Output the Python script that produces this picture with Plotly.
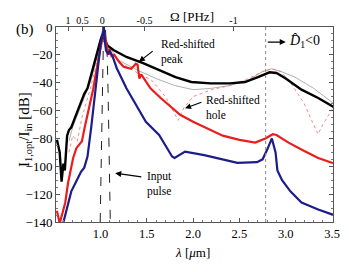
import plotly.graph_objects as go

# ---- data (wavelength in um, intensity in dB) ----
black_lam = [0.53, 0.56, 0.58, 0.60, 0.615, 0.64, 0.66, 0.685, 0.72, 0.755, 0.79, 0.825, 0.86, 0.90, 0.95,
             1.00, 1.02, 1.05, 1.07, 1.14, 1.28, 1.46, 1.63, 1.81, 1.98, 2.19, 2.4, 2.56, 2.7, 2.825, 2.9,
             3.0, 3.17, 3.35, 3.52]
black_db = [-81, -90, -111, -98, -103, -78, -74, -72, -66, -60, -53, -48, -44, -35, -22,
            -9.5, -5.5, -9, -13, -16.5, -21.5, -26, -31, -36, -39.5, -40.5, -40.5, -39.5, -36, -32.5, -33,
            -37, -45, -51, -57.5]

red_lam = [0.53, 0.56, 0.58, 0.60, 0.62, 0.65, 0.68, 0.705, 0.74, 0.78, 0.80, 0.83, 0.86, 0.885, 0.92, 0.96,
           1.00, 1.035, 1.05, 1.07, 1.09, 1.10, 1.12, 1.15, 1.2, 1.25, 1.33, 1.36, 1.38, 1.40, 1.42, 1.44,
           1.47, 1.54, 1.65, 1.79, 1.86, 2.0, 2.2, 2.32, 2.5, 2.67, 2.78, 2.86, 2.9, 3.03, 3.2, 3.35, 3.52]
red_db = [-132, -141, -136, -130, -126, -112, -102, -94, -87, -84, -82, -72, -63, -57, -45, -30,
          -14, -3, -8, -14, -20, -16, -21, -20, -25, -28.5, -30, -28, -26.5, -27, -37, -34,
          -37, -44, -51, -59, -63, -68, -74, -78, -81, -83, -80, -77, -77.5, -83, -89, -94, -98]

blue_lam = [0.597, 0.64, 0.685, 0.73, 0.77, 0.79, 0.825, 0.86, 0.90, 0.93, 0.948, 0.965, 1.00, 1.036,
            1.05, 1.06, 1.08, 1.10, 1.13, 1.176, 1.28, 1.386, 1.49, 1.633, 1.773, 1.80, 1.913, 2.12,
            2.478, 2.69, 2.75, 2.8, 2.85, 2.89, 2.91, 2.96, 3.05, 3.17, 3.35, 3.52]
blue_db = [-141, -130, -118, -112, -106, -104, -101, -93, -72, -52, -45, -34, -13, 0,
           -12, -17, -19, -17.5, -21, -29.6, -44, -56, -68, -77.5, -93, -94, -89.5, -92,
           -97.6, -97, -95, -88, -80, -90, -103, -110, -118, -126, -131, -135]

gray_lam = [0.66, 0.7, 0.8, 0.9, 1.0, 1.03, 1.1, 1.2, 1.4, 1.6, 1.8, 2.0, 2.2, 2.4, 2.6, 2.75, 2.85,
            2.95, 3.1, 3.3, 3.52]
gray_db = [-82, -72, -55, -38, -12, -5, -15, -24, -31, -37, -42, -45, -44, -42, -38, -32, -30,
           -32, -36, -44, -55]

pink_lam = [0.66, 0.7, 0.75, 0.8, 0.9, 1.0, 1.03, 1.1, 1.2, 1.4, 1.55, 1.7, 1.8, 1.84, 1.9, 2.0,
            2.2, 2.4, 2.6, 2.75, 2.85, 2.95, 3.05, 3.2, 3.3, 3.35, 3.4, 3.5, 3.52]
pink_db = [-90, -78, -82, -65, -42, -12, -5, -16, -25, -33, -38, -50, -62, -67, -58, -50,
           -45, -42, -37, -32, -30, -32, -40, -55, -70, -77, -70, -60, -57]

pulse_lam = [0.997, 1.005, 1.016, 1.03, 1.05, 1.07, 1.082, 1.095, 1.106]
pulse_db = [-140, -100, -45, -15, 0, -15, -45, -100, -140]

x_ticks = [1.0, 1.5, 2.0, 2.5, 3.0, 3.5]
y_ticks = [0, -20, -40, -60, -80, -100, -120, -140]
omega_pos = [0.65, 0.807, 1.018, 1.475, 2.436]
omega_labels = ["1", "0.5", "0", "-0.5", "-1"]

RED = "#ec1c1c"
BLUE = "#1c1c8a"
FONT = "Liberation Serif"

W, H = 349, 272
L, R, T, B = 56, 9, 27, 50
pw, ph = W - L - R, H - T - B


def px(xp):
    return (xp - L) / pw


def py(yp):
    return 1 - (yp - T) / ph


fig = go.Figure()
fig.add_trace(go.Scatter(x=gray_lam, y=gray_db, mode="lines",
                         line=dict(color="#9a9a9a", width=0.8)))
fig.add_trace(go.Scatter(x=pink_lam, y=pink_db, mode="lines",
                         line=dict(color="#f07a7a", width=0.9, dash="dot")))
fig.add_trace(go.Scatter(x=pulse_lam, y=pulse_db, mode="lines",
                         line=dict(color="#222", width=1, dash="dash")))
fig.add_trace(go.Scatter(x=black_lam, y=black_db, mode="lines",
                         line=dict(color="black", width=2.4)))
fig.add_trace(go.Scatter(x=red_lam, y=red_db, mode="lines",
                         line=dict(color=RED, width=2.2)))
fig.add_trace(go.Scatter(x=blue_lam, y=blue_db, mode="lines",
                         line=dict(color=BLUE, width=2.2)))
fig.add_trace(go.Scatter(x=[0.52, 3.51], y=[-200, -200], xaxis="x2", mode="lines",
                         line=dict(width=0), hoverinfo="skip"))

fig.add_shape(type="line", x0=2.783, x1=2.783, y0=0, y1=1, yref="paper",
              line=dict(color="#888", width=1, dash="dot"))


def arrow(hx, hy, tx, ty):
    return dict(x=hx, y=hy, ax=tx, ay=ty, axref="x", ayref="y", text="", showarrow=True,
                arrowhead=2, arrowsize=1, arrowwidth=1.2, arrowcolor="black")


def label(xp, yp, text, size=11.5):
    return dict(x=px(xp), y=py(yp), xref="paper", yref="paper", text=text, showarrow=False,
                xanchor="left", yanchor="middle", align="left",
                font=dict(family=FONT, size=size, color="black"))


annotations = [
    arrow(1.415, -25, 1.58, -16.5),
    label(162, 52, "Red-shifted<br>peak"),
    arrow(1.913, -58.4, 2.106, -53.6),
    label(208, 107, "Red-shifted<br>hole"),
    arrow(1.159, -105, 1.457, -107.7),
    label(147, 183.5, "Input<br>pulse"),
    arrow(3.0, -10.8, 2.79, -10.8),
    label(293, 42, "<i>D̂</i><sub>1</sub>&lt;0", size=14),
    dict(x=px(13), y=py(19), xref="paper", yref="paper", text="(b)",
         showarrow=False, font=dict(family=FONT, size=15, color="black")),
    dict(x=px(195), y=py(7), xref="paper", yref="paper", text="Ω [PHz]",
         showarrow=False, font=dict(family=FONT, size=13, color="black")),
    dict(x=px(13), y=py(130), xref="paper", yref="paper",
         text="I<sub>1,opt</sub>/I<sub>in</sub> [dB]", textangle=-90,
         showarrow=False, font=dict(family=FONT, size=15, color="black")),
    dict(x=px(196), y=py(262), xref="paper", yref="paper", text="<i>λ</i> [<i>μ</i>m]",
         showarrow=False, font=dict(family=FONT, size=13, color="black")),
]

fig.update_layout(
    width=W, height=H, margin=dict(l=L, r=R, t=T, b=B),
    paper_bgcolor="white", plot_bgcolor="white", showlegend=False,
    font=dict(family=FONT, size=13, color="black"),
    annotations=annotations,
    xaxis=dict(range=[0.52, 3.51], tickvals=x_ticks, tickformat=".1f", ticks="inside", ticklen=4,
               tickcolor="#555", showline=True, linecolor="#555", linewidth=1, mirror=True,
               showgrid=False, zeroline=False, ticklabeloverflow="allow",
               minor=dict(ticks="inside", ticklen=2, dtick=0.1, tick0=0.5, tickcolor="#777"),
               tickfont=dict(size=12.5)),
    xaxis2=dict(range=[0.52, 3.51], overlaying="x", side="top", tickvals=omega_pos,
                ticktext=omega_labels, ticks="inside", ticklen=4, tickcolor="#555",
                showgrid=False, zeroline=False, showline=False, tickfont=dict(size=10)),
    yaxis=dict(range=[-140, 0], tickvals=y_ticks, ticks="inside", ticklen=4, tickcolor="#555",
               showline=True, linecolor="#555", linewidth=1, mirror="ticks",
               showgrid=False, zeroline=False,
               minor=dict(ticks="inside", ticklen=2, dtick=5, tickcolor="#777"),
               tickfont=dict(size=13)),
)

fig.write_html("out.html", config={"displayModeBar": False},
               post_script="document.body.style.margin='0';")
